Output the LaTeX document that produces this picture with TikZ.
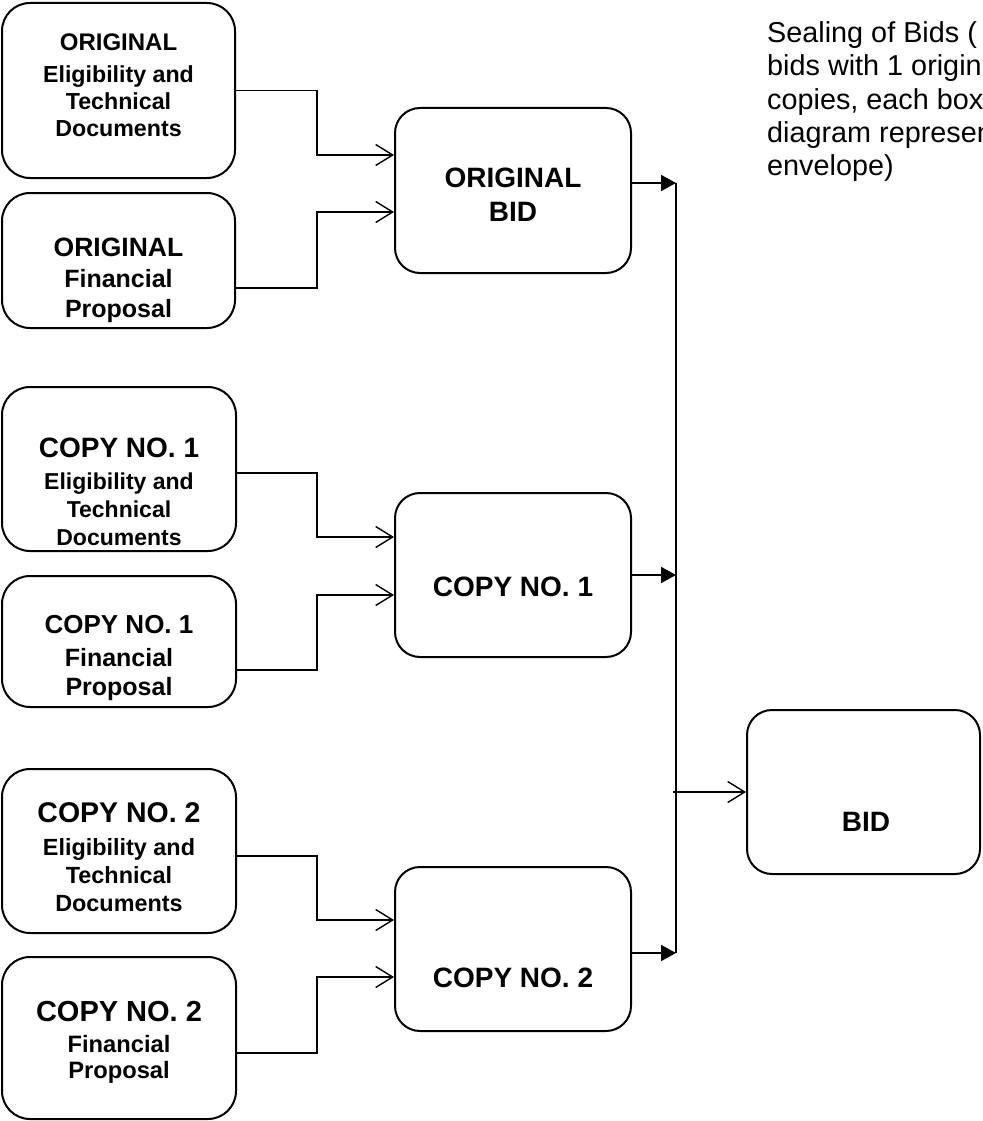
\documentclass[tikz,border=0pt]{standalone}
\usepackage{fontspec}
\setmainfont{Liberation Sans}
\usetikzlibrary{arrows.meta}
\tikzset{
  lbox/.style={draw, line width=2pt, rounded corners=28pt, minimum width=233pt, inner sep=0pt},
  mbox/.style={draw, line width=2pt, rounded corners=25pt, minimum width=236pt, minimum height=164pt, inner sep=0pt},
  lbl/.style={align=center, inner sep=0pt, anchor=north},
  inarrow/.style={line width=1.4pt, -{Straight Barb[length=17pt,width=21pt]}},
  outarrow/.style={line width=1.8pt, -{Triangle[length=15pt,width=16pt]}},
  busline/.style={line width=2pt},
}
\begin{document}
\begin{tikzpicture}[x=1pt,y=-1pt]
\useasboundingbox (0,0) rectangle (982,1121);

% left boxes
\node[lbox, minimum height=175pt] (b1) at (118.5,90.5) {};
\node[lbox, minimum height=135pt] (b2) at (118.5,260.5) {};
\node[lbox, minimum height=164pt, minimum width=234pt] (b3) at (119,469) {};
\node[lbox, minimum height=131pt, minimum width=234pt] (b4) at (119,641.5) {};
\node[lbox, minimum height=164pt, minimum width=234pt] (b5) at (119,851) {};
\node[lbox, minimum height=162pt, minimum width=234pt] (b6) at (119,1038) {};

% middle boxes
\node[mbox, minimum height=165pt] (m1) at (513,190.5) {};
\node[mbox] (m2) at (513,575) {};
\node[mbox] (m3) at (513,949) {};

% final box
\node[mbox, minimum width=233pt] (bid) at (863.5,792) {};

% labels of left boxes
\node[lbl, font=\bfseries\fontsize{23.2}{27}\selectfont] (t1) at (118.5,33.4)
  {{\fontsize{24}{27}\selectfont ORIGINAL}\\[5pt]Eligibility and\\Technical\\Documents};
\node[lbl, font=\bfseries\fontsize{25}{30}\selectfont] (t2) at (118.5,237.5)
  {{\fontsize{26.5}{30}\selectfont ORIGINAL}\\[1pt]Financial\\Proposal};
\node[lbl, font=\bfseries\fontsize{23}{28}\selectfont] (t3) at (119,438)
  {{\fontsize{28}{28}\selectfont COPY NO. 1}\\[4pt]Eligibility and\\Technical\\Documents};
\node[lbl, font=\bfseries\fontsize{25}{29}\selectfont] (t4) at (119,615.6)
  {{\fontsize{26}{29}\selectfont COPY NO. 1}\\[4pt]Financial\\Proposal};
\node[lbl, font=\bfseries\fontsize{23.4}{28}\selectfont] (t5) at (119,802.7)
  {{\fontsize{28.5}{28}\selectfont COPY NO. 2}\\[5pt]Eligibility and\\Technical\\Documents};
\node[lbl, font=\bfseries\fontsize{23.7}{26.5}\selectfont] (t6) at (119,1000.6)
  {{\fontsize{29}{26.5}\selectfont COPY NO. 2}\\[4.5pt]Financial\\Proposal};

% labels of middle and final boxes
\node[lbl, font=\bfseries\fontsize{28}{34}\selectfont] (tm1) at (513,168) {ORIGINAL\\BID};
\node[lbl, font=\bfseries\fontsize{28}{34}\selectfont] (tm2) at (513,577) {COPY NO. 1};
\node[lbl, font=\bfseries\fontsize{28}{34}\selectfont] (tm3) at (513,968) {COPY NO. 2};
\node[lbl, font=\bfseries\fontsize{28}{34}\selectfont] (tbid) at (866,812) {BID};

% note
\node[align=left, anchor=north west, inner sep=0pt, font=\fontsize{28.8}{33.4}\selectfont] (note) at (767,21.3)
  {Sealing of Bids (\\bids with 1 origin\\copies, each box\\diagram represen\\envelope)};

% input connectors
\draw[inarrow] (b1.east) -- ++(81,0) |- ([yshift=35.5pt]m1.west);
\draw[inarrow] ([yshift=-27.5pt]b2.east) -- ++(81,0) |- ([yshift=-21.5pt]m1.west);
\draw[inarrow] ([yshift=-4pt]b3.east) -- ++(80,0) |- ([yshift=38pt]m2.west);
\draw[inarrow] ([yshift=-28.5pt]b4.east) -- ++(80,0) |- ([yshift=-20pt]m2.west);
\draw[inarrow] ([yshift=-5pt]b5.east) -- ++(80,0) |- ([yshift=29pt]m3.west);
\draw[inarrow] ([yshift=-15pt]b6.east) -- ++(80,0) |- ([yshift=-28pt]m3.west);

% bus
\coordinate (j1) at (676,183);
\coordinate (j2) at (676,575);
\coordinate (j3) at (676,953);
\coordinate (jb) at (673,792);
\draw[busline] (j1) -- (j3);
\draw[outarrow] (m1.east |- j1) -- (j1);
\draw[outarrow] (m2.east |- j2) -- (j2);
\draw[outarrow] (m3.east |- j3) -- (j3);
\draw[inarrow] (jb) -- (bid.west);
\end{tikzpicture}
\end{document}
